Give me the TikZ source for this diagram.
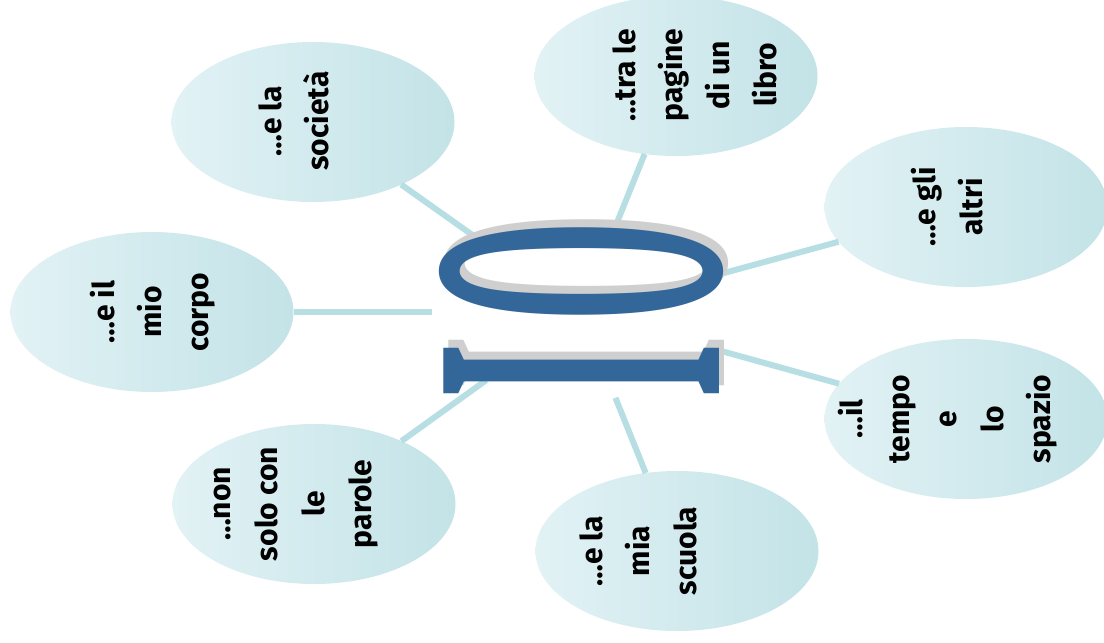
\documentclass[tikz,border=0pt]{standalone}
\usepackage{fontspec}
\setmainfont{Liberation Serif}
\newfontfamily\bubblefont{Fira Sans}
\usepackage{graphicx}
\usepackage{xcolor}
\usepackage{tikz}
\usetikzlibrary{shapes.geometric}
\definecolor{ioblue}{HTML}{336699}
\definecolor{linkcol}{HTML}{B7DEE3}
\definecolor{bubbleleft}{HTML}{E2F2F5}
\definecolor{bubbleright}{HTML}{C3E3E7}
\newcommand{\ioword}{\rotatebox{90}{\bfseries\resizebox*{55pt}{275pt}{I}\hspace{22pt}\resizebox*{100pt}{283pt}{O}}}

\begin{document}
\begin{tikzpicture}[x=1pt,y=-1pt,
    bubble/.style={ellipse,minimum width=283pt,minimum height=160pt,
      inner sep=0pt,outer sep=0pt,left color=bubbleleft,right color=bubbleright},
    bubbletext/.style={rotate=90,align=center,
      font={\bubblefont\bfseries\fontsize{30}{47}\selectfont}},
    hub/.style={ellipse,minimum width=298pt,minimum height=176pt,inner sep=0pt},
    link/.style={draw=linkcol,line width=6pt}]
    \useasboundingbox (0,0) rectangle (1104,643);
    % bubbles
    \node[bubble] (soc) at (313,122) {};
    \node[bubble] (libro) at (676,76) {};
    \node[bubble] (altri) at (966,207) {};
    \node[bubble] (corpo) at (152,312) {};
    \node[bubble] (tempo) at (966,419) {};
    \node[bubble] (parole) at (314,504) {};
    \node[bubble] (scuola) at (677,551) {};
    \node[hub] (io) at (581,312) {};
    \foreach \b in {soc,libro,altri,corpo,tempo,parole,scuola}
      \draw[link] (\b) -- (io);
    % texts
    \node[bubbletext] (soclbl) at (294,121) {…e la\\società};
    \node[bubbletext] (librolbl) at (695,75) {…tra le\\pagine\\di un\\libro};
    \node[bubbletext] (altrilbl) at (947,207) {…e gli\\altri};
    \node[bubbletext] (corpolbl) at (153,312) {…e il\\mio\\corpo};
    \node[bubbletext] (tempolbl) at (948,419) {…il\\tempo\\e\\lo\\spazio};
    \node[bubbletext] (parolelbl) at (296,504) {…non\\solo con\\le\\parole};
    \node[bubbletext] (scuolalbl) at (638,551) {…e la\\mia\\scuola};
    % IO
    \node[text=gray!38,xshift=5pt,yshift=8pt,inner sep=0pt] (ioshade) at (581,310) {\ioword};
    \node[text=ioblue,inner sep=0pt] (iolbl) at (581,310) {\ioword};
\end{tikzpicture}
\end{document}
